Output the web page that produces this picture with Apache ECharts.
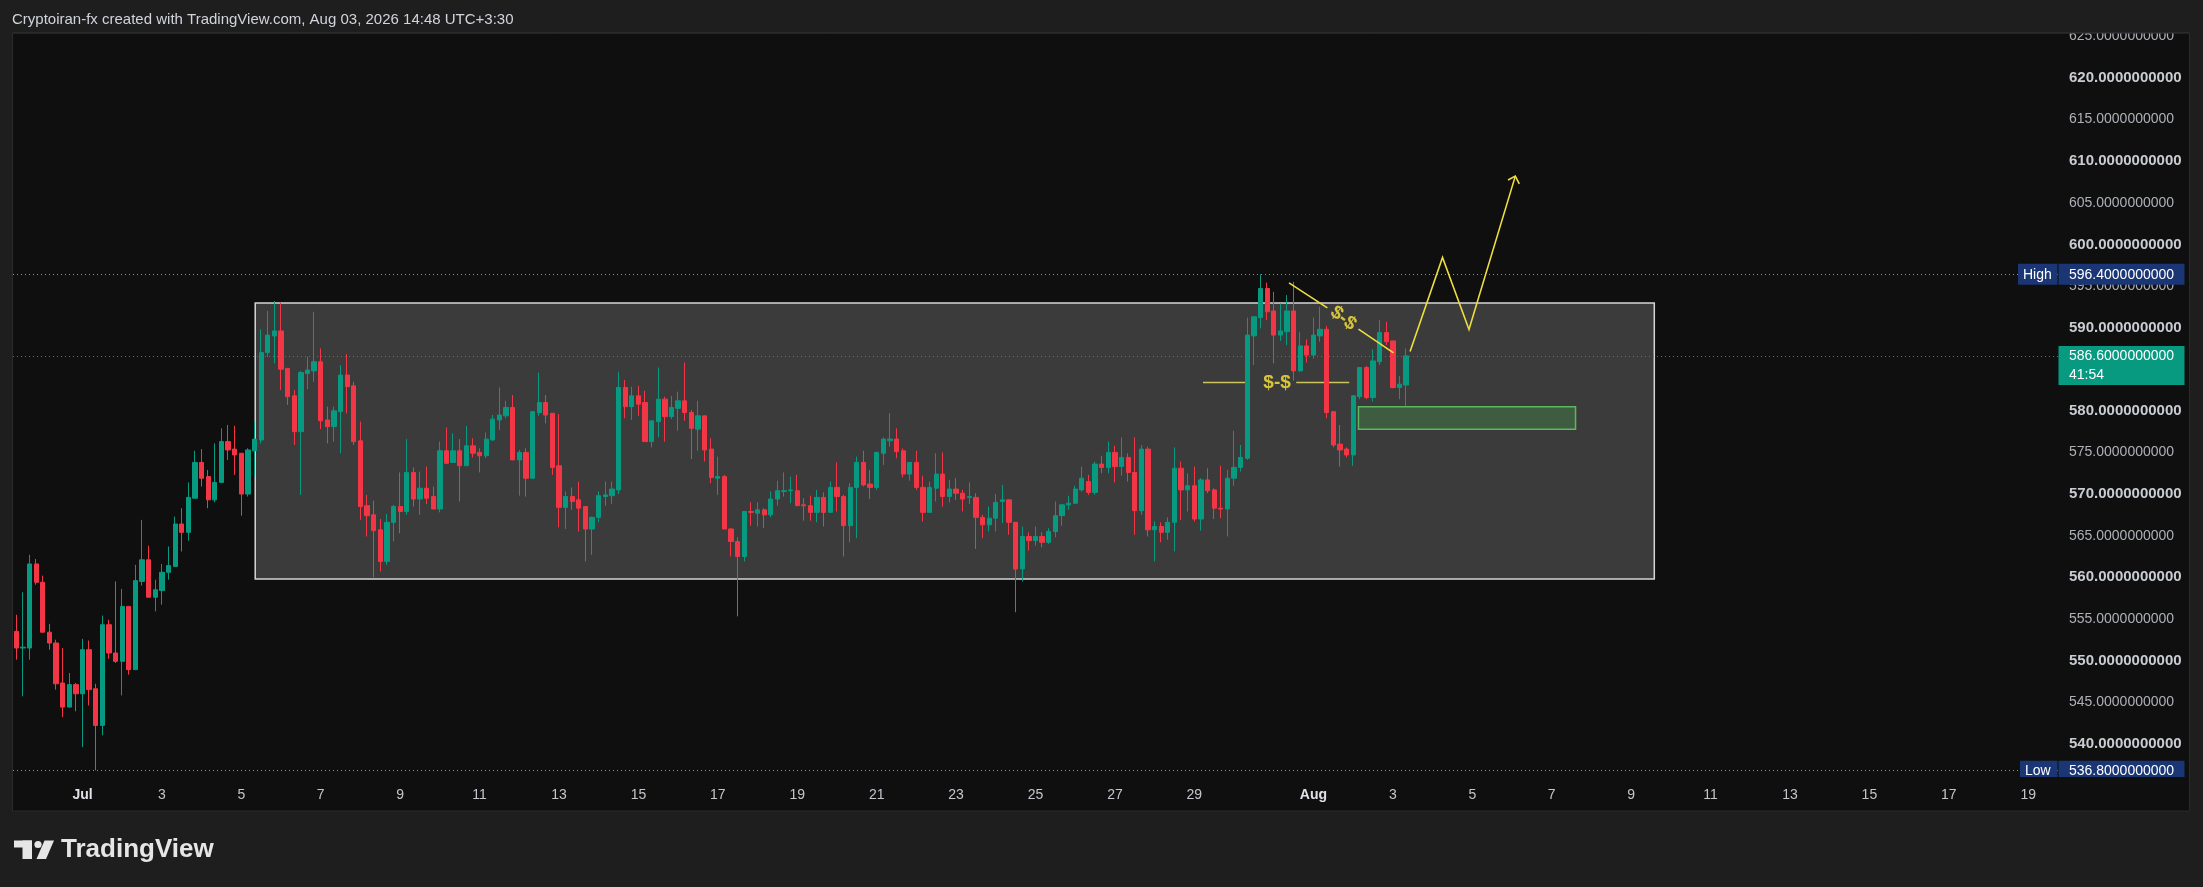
<!DOCTYPE html>
<html>
<head>
<meta charset="utf-8">
<script src="https://cdn.jsdelivr.net/npm/echarts@6/dist/echarts.min.js"></script>
<style>
html,body{margin:0;padding:0;background:#1e1e1e;}
#c{width:2203px;height:887px;}
</style>
</head>
<body>
<div id="c"></div>
<script>
// ---- DATA (4h candles, starting Jun 29 08:00) ----
const opens = [553.5,551.5,551.5,561.6,559.4,553.4,552.1,547.3,544.4,547.1,546.0,551.3,546.6,542.2,554.3,550.9,549.9,556.5,548.9,559.5,
562.1,557.6,558.4,560.6,561.3,566.4,565.4,569.5,573.8,572.1,569.3,571.4,576.3,575.4,574.9,570.0,575.2,576.5,587.0,589.0,
589.6,585.1,581.8,577.5,584.5,584.8,585.9,578.9,578.1,579.9,584.3,583.0,576.4,568.6,567.5,565.7,561.9,566.6,
568.5,567.9,572.6,569.4,570.7,569.7,568.2,575.2,573.8,575.2,573.4,575.8,575.0,574.6,576.5,578.9,579.4,580.4,574.1,575.0,
571.9,579.8,581.0,579.7,573.4,568.4,569.7,569.3,568.5,565.8,567.2,569.7,569.8,570.5,582.8,580.5,581.8,581.0,576.3,578.7,
581.4,579.3,580.3,581.2,579.8,577.8,579.4,575.4,571.9,572.1,565.8,564.3,
562.5,567.9,567.7,568.1,567.5,569.4,570.3,570.4,570.4,568.7,568.6,567.8,569.6,567.8,570.8,569.7,566.2,570.8,573.8,571.2,
570.8,574.9,576.4,576.6,575.2,572.4,573.8,570.8,567.8,570.7,572.4,569.7,570.6,570.1,569.6,569.6,567.2,566.3,567.1,569.1,
569.3,566.6,561.0,564.9,564.4,564.9,564.2,565.5,567.4,568.7,568.9,570.5,
571.5,570.2,573.6,573.2,575.0,573.3,574.4,572.6,568.0,575.4,565.7,566.1,565.4,566.6,573.1,570.5,571.0,567.0,571.7,570.5,
568.3,568.2,571.9,573.2,574.3,589.0,591.2,594.7,592.0,589.1,589.5,592.0,584.8,587.8,586.7,589.0,589.8,579.9,576.0,575.4,
574.7,581.7,585.2,581.6,585.9,589.4,588.4,582.8,583.1];
const closes = [551.5,551.6,561.6,559.4,553.4,552.1,547.2,544.4,547.1,546.0,551.3,546.5,542.2,554.3,550.9,549.9,556.5,548.9,559.6,562.1,
557.6,558.5,560.6,561.4,566.4,565.4,569.6,573.8,571.9,569.3,571.4,576.3,575.3,574.7,570.0,575.3,576.6,587.0,589.1,589.6,
585.0,581.7,577.5,584.6,584.9,585.9,578.8,578.1,580.0,584.3,582.9,576.3,568.5,567.4,565.6,561.9,566.6,568.5,
567.9,572.6,569.4,570.7,569.5,568.2,575.2,573.7,575.2,573.4,575.8,574.9,574.6,576.6,579.0,579.5,580.4,574.1,575.0,571.9,
579.9,581.0,579.5,573.2,568.4,569.7,569.1,568.3,565.8,567.2,569.8,569.9,570.6,582.8,580.5,581.8,580.8,576.3,578.8,581.4,
579.3,580.4,581.2,579.8,577.9,579.4,575.3,572.0,572.1,565.8,564.3,562.5,
567.9,567.8,568.1,567.5,569.4,570.4,570.4,570.5,568.6,568.6,567.8,569.6,567.8,570.8,569.7,566.2,570.8,573.8,571.1,570.8,
575.0,576.6,576.6,575.1,572.4,573.8,570.8,567.8,570.8,572.4,569.7,570.6,570.1,569.4,569.7,567.2,566.3,567.1,569.0,569.3,
566.6,561.0,564.9,564.4,564.9,564.2,565.5,567.4,568.7,568.9,570.6,571.9,
570.2,573.6,573.2,575.0,573.3,574.4,572.6,568.0,575.4,565.7,566.1,565.4,566.6,573.1,570.5,571.0,567.0,571.7,570.4,568.3,
568.2,571.9,573.2,574.4,589.1,591.3,594.7,591.9,589.1,589.6,592.0,584.8,587.8,586.7,589.1,589.8,579.8,575.9,575.3,574.7,
581.8,585.2,581.6,586.0,589.4,588.3,582.8,583.2,586.6];
const highs = [555.5,558.2,562.7,562.2,560.2,554.4,552.5,551.5,548.5,547.3,552.6,552.4,547.2,555.4,554.9,559.5,558.6,556.5,561.5,566.9,
563.8,559.7,561.6,563.7,567.3,568.3,571.4,575.2,575.4,572.9,576.1,577.9,578.3,578.2,574.9,575.5,578.7,589.8,592.0,593.2,
593.0,585.1,582.5,584.8,586.5,591.9,587.5,580.5,580.5,585.5,586.8,583.5,578.7,569.9,569.2,567.0,567.6,568.7,
572.6,576.6,573.2,572.7,573.3,570.9,576.3,578.0,577.3,576.6,578.2,576.7,575.5,577.4,579.5,582.8,581.2,581.9,575.3,575.5,
580.0,584.6,581.9,579.7,579.6,570.3,570.8,571.5,568.5,567.3,570.3,571.5,571.5,584.7,583.7,582.9,583.0,582.4,578.8,585.2,
581.7,581.8,582.3,585.8,580.1,581.2,579.4,576.7,574.5,572.3,565.9,564.8,
567.9,569.0,569.0,568.3,570.3,571.6,572.6,572.1,572.3,569.5,569.8,570.5,570.2,571.5,573.8,569.9,571.3,574.5,575.2,572.9,
575.1,576.8,579.7,577.9,575.5,573.8,575.2,572.2,571.5,574.9,575.0,571.7,571.9,570.5,571.4,570.1,567.5,568.5,570.0,571.1,
569.4,566.6,566.1,565.4,566.1,565.4,565.9,569.1,568.8,569.8,571.0,573.3,
572.3,573.9,574.6,576.3,575.8,576.8,574.9,576.8,575.9,575.7,566.7,566.6,567.2,575.6,573.9,572.5,573.3,571.9,573.1,570.7,
573.4,572.9,577.6,575.9,591.2,591.3,596.4,595.4,594.3,592.9,593.9,595.5,589.5,588.6,591.2,592.5,590.2,579.9,578.3,575.6,
581.9,585.2,585.4,587.4,590.9,590.7,588.4,584.2,587.5];
const lows = [550.1,545.7,550.1,559.1,553.4,551.3,546.5,543.2,544.4,543.9,539.6,544.6,536.8,541.0,550.2,549.7,545.8,548.3,548.9,559.0,
557.6,555.9,556.7,559.7,561.3,563.1,564.4,569.5,570.9,568.3,569.0,571.4,574.1,572.3,567.4,569.7,572.1,576.1,586.5,585.7,
582.5,580.7,575.9,569.9,582.6,583.5,577.8,576.1,576.3,574.9,579.7,575.9,566.9,564.9,560.0,560.7,561.5,564.3,
565.3,567.5,568.5,567.5,568.8,568.2,567.8,573.6,573.8,569.1,573.4,574.4,572.6,574.3,576.4,577.7,579.1,574.1,569.8,569.7,
571.8,579.4,578.5,572.3,566.0,565.8,568.1,565.5,561.9,562.7,566.6,568.6,568.8,570.0,579.1,578.9,579.4,576.3,575.6,576.8,
576.3,579.0,577.6,578.8,574.2,575.2,573.9,571.3,569.9,565.8,562.5,555.3,
561.9,566.2,566.1,565.9,567.2,568.6,569.7,568.9,568.6,566.8,566.8,566.6,566.1,567.8,567.9,562.5,564.2,564.7,570.9,569.4,
570.5,573.5,575.7,574.3,572.0,571.6,570.5,566.7,567.8,569.1,568.5,569.0,569.3,567.9,568.8,563.4,564.7,565.5,565.5,566.5,
565.1,555.8,559.5,563.2,563.8,563.6,564.0,564.8,566.2,568.1,568.8,570.3,
569.9,569.9,572.5,572.5,571.4,572.2,571.5,565.1,567.5,564.9,561.9,564.2,564.5,563.1,566.9,567.9,566.7,565.6,570.1,567.0,
567.1,564.9,571.0,572.7,574.1,585.5,589.9,590.9,585.7,588.4,587.9,583.6,584.7,585.8,586.3,588.3,579.1,575.6,573.3,574.4,
573.4,581.4,581.4,581.1,585.5,587.9,582.7,581.4,580.6];

const priceTicksStep = 5;
const highValue = 596.4, lowValue = 536.8, lastValue = 586.6;
const countdown = '41:54';
const totalSlots = 309;

// annotation geometry in data units: [candle index, price]
const rangeBox = [[36.1, 592.95], [247.5, 559.8]];
const demandBox = [[202.8, 580.5], [235.6, 577.8]];
const levelLines = [
  [[179.3, 583.4], [186.1, 583.4]],
  [[193.4, 583.4], [201.4, 583.4]]
];
const yellowPaths = [
  [[192.3, 595.38], [198.1, 592.38]],
  [[202.8, 589.82], [208.1, 586.97]],
  [[210.6, 587.12], [215.5, 598.43], [219.5, 589.78], [226.5, 608.2]],
  [[225.4, 607.74], [226.5, 608.2], [227.1, 607.26]]
];
const labelsSS = [
  {pos: [190.5, 583.4], rot: 0},
  {pos: [200.5, 591.1], rot: -37}
];

// ---- categories ----
const start = Date.UTC(2026, 5, 29, 8);
const cats = [];
for (let i = 0; i < totalSlots; i++) {
  const d = new Date(start + i * 4 * 3600e3);
  cats.push(d.toISOString().slice(0, 13));
}
const monthNames = ['Jan','Feb','Mar','Apr','May','Jun','Jul','Aug','Sep','Oct','Nov','Dec'];
function catLabel(value) {
  const d = new Date(value + ':00:00Z');
  if (d.getUTCHours() !== 0) return '';
  const day = d.getUTCDate();
  if (day === 1) return '{m|' + monthNames[d.getUTCMonth()] + '}';
  if (day % 2 === 1 && day !== 31) return '{d|' + day + '}';
  return '';
}

const candleData = opens.map((o, i) => [o, closes[i], lows[i], highs[i]]);

const FONT = 'Liberation Sans, Arial, sans-serif';
const UP = '#089981', DOWN = '#f23645', YEL = '#eedd3f';

const chart = echarts.init(document.getElementById('c'));
const gridLeft = 13, gridTop = 33, gridW = 2045, gridH = 744;

chart.setOption({
  animation: false,
  backgroundColor: '#1e1e1e',
  grid: {left: gridLeft, top: gridTop, width: gridW, height: gridH},
  xAxis: [{
    type: 'category', data: cats, boundaryGap: true,
    axisLine: {show: false}, axisTick: {show: false}, splitLine: {show: false},
    axisLabel: {
      interval: 0, margin: 11, formatter: catLabel,
      rich: {
        d: {color: '#c4c6cc', fontSize: 14, fontFamily: FONT},
        m: {color: '#dfe1e6', fontSize: 14, fontWeight: 'bold', fontFamily: FONT}
      }
    }
  }, {
    type: 'value', min: -0.5, max: totalSlots - 0.5, show: false
  }],
  yAxis: {
    type: 'value', position: 'right', min: 536, max: 625.4, interval: 1, scale: true,
    axisLine: {show: false}, axisTick: {show: false}, splitLine: {show: false},
    axisLabel: {
      margin: 11,
      formatter: function (v) {
        const r = Math.round(v);
        if (Math.abs(v - r) > 1e-6 || r % priceTicksStep !== 0) return '';
        return (r % 10 === 0 ? '{b|' : '{n|') + r.toFixed(10) + '}';
      },
      rich: {
        n: {color: '#aeb1b8', fontSize: 14, fontFamily: FONT},
        b: {color: '#c9ccd2', fontSize: 15, fontWeight: 'bold', fontFamily: FONT}
      }
    }
  },
  series: [
    {
      type: 'scatter', xAxisIndex: 1, data: [], z: 1, silent: true,
      markArea: {
        silent: true,
        itemStyle: {color: '#3b3b3b', borderColor: '#d6d6d6', borderWidth: 1.5},
        data: [[{coord: rangeBox[0]}, {coord: rangeBox[1]}]]
      }
    },
    {
      type: 'lines', coordinateSystem: 'cartesian2d', xAxisIndex: 1, polyline: true, z: 2, silent: true,
      lineStyle: {color: '#cbc35c', width: 1.6, opacity: 1},
      data: levelLines.map(p => ({coords: p}))
    },
    {
      type: 'candlestick', data: candleData, z: 3, barWidth: '72%',
      itemStyle: {color: UP, color0: DOWN, borderColor: UP, borderColor0: DOWN, borderWidth: 1},
      markLine: {
        silent: true, symbol: ['none', 'none'], label: {show: false}, animation: false,
        data: [
          {yAxis: highValue, lineStyle: {color: '#8f9299', type: [1, 3], width: 1}},
          {yAxis: lastValue, lineStyle: {color: UP, type: [1, 3], width: 1}},
          {yAxis: lowValue, lineStyle: {color: '#8f9299', type: [1, 3], width: 1}}
        ]
      }
    },
    {
      type: 'scatter', xAxisIndex: 1, data: [], z: 4, silent: true,
      markArea: {
        silent: true,
        itemStyle: {color: '#3e5c40', borderColor: '#5cb860', borderWidth: 1.5},
        data: [[{coord: demandBox[0]}, {coord: demandBox[1]}]]
      }
    },
    {
      type: 'lines', coordinateSystem: 'cartesian2d', xAxisIndex: 1, polyline: true, z: 6, silent: true,
      lineStyle: {color: YEL, width: 1.6, opacity: 1},
      data: yellowPaths.map(p => ({coords: p}))
    },
    {
      type: 'scatter', xAxisIndex: 1, z: 7, silent: true, symbolSize: 1,
      itemStyle: {color: 'rgba(0,0,0,0)'},
      data: labelsSS.map(l => ({
        value: l.pos,
        label: {show: true, position: 'inside', formatter: '$-$', rotate: l.rot,
          color: '#ffe83a', fontSize: 19, fontWeight: 'bold', fontFamily: FONT}
      }))
    }
  ]
});

const right = gridLeft + gridW;
const yH = chart.convertToPixel({yAxisIndex: 0}, highValue);
const yC = chart.convertToPixel({yAxisIndex: 0}, lastValue);
const yL = chart.convertToPixel({yAxisIndex: 0}, lowValue);
const bottom = gridTop + gridH;
const NAVY = '#1b3674';
function txt(x, y, s, opt) {
  return Object.assign({type: 'text', z: 60, style: {x: x, y: y, text: s, fill: '#ffffff',
    font: '14px ' + FONT, textAlign: 'left', align: 'left', textVerticalAlign: 'middle', verticalAlign: 'middle'}}, opt || {});
}
chart.setOption({
  graphic: [
    {type: 'rect', z: -10, shape: {x: 12.5, y: 33, width: 2177, height: 778}, style: {fill: '#0f0f0f', stroke: '#2b2b2b', lineWidth: 1}},
    {type: 'rect', z: 100, shape: {x: 0, y: 0, width: 2203, height: 32.5}, style: {fill: '#1e1e1e'}},
    {type: 'rect', z: 100, shape: {x: 12.5, y: 32, width: 2177, height: 1.5}, style: {fill: '#2b2b2b'}},
    {type: 'text', z: 101, style: {x: 12, y: 20, text: 'Cryptoiran-fx created with TradingView.com, Aug 03, 2026 14:48 UTC+3:30',
      fill: '#d1d4dc', font: '15px ' + FONT, textAlign: 'left', align: 'left', textVerticalAlign: 'middle', verticalAlign: 'middle'}},
    // High tag
    {type: 'rect', z: 55, shape: {x: right - 40, y: yH - 10.5, width: 39.5, height: 21}, style: {fill: NAVY}},
    {type: 'rect', z: 55, shape: {x: right + 0.5, y: yH - 10.5, width: 126, height: 21}, style: {fill: NAVY}},
    txt(right - 35, yH + 0.5, 'High'),
    txt(right + 11, yH + 0.5, highValue.toFixed(10)),
    // last price tag
    {type: 'rect', z: 55, shape: {x: right + 0.5, y: yC - 10, width: 126, height: 39}, style: {fill: UP}},
    txt(right + 11, yC, lastValue.toFixed(10)),
    txt(right + 11, yC + 19, countdown),
    // Low tag
    {type: 'rect', z: 55, shape: {x: right - 38, y: yL - 9.5, width: 37.5, height: bottom - (yL - 9.5)}, style: {fill: NAVY}},
    {type: 'rect', z: 55, shape: {x: right + 0.5, y: yL - 9.5, width: 126, height: bottom - (yL - 9.5)}, style: {fill: NAVY}},
    txt(right - 33, yL + 1, 'Low'),
    txt(right + 11, yL + 1, lowValue.toFixed(10)),
    // TradingView logo
    {type: 'rect', z: 60, shape: {x: 14, y: 840.5, width: 18, height: 7}, style: {fill: '#e6e6e6'}},
    {type: 'rect', z: 60, shape: {x: 22.5, y: 840.5, width: 9.5, height: 18.5}, style: {fill: '#e6e6e6'}},
    {type: 'circle', z: 60, shape: {cx: 38, cy: 844.5, r: 3.6}, style: {fill: '#e6e6e6'}},
    {type: 'polygon', z: 60, shape: {points: [[44.5, 840.5], [54, 840.5], [46, 859], [36.5, 859]]}, style: {fill: '#e6e6e6'}},
    {type: 'text', z: 60, style: {x: 61, y: 850, text: 'TradingView', fill: '#e6e6e6', font: 'bold 26px ' + FONT,
      textAlign: 'left', align: 'left', textVerticalAlign: 'middle', verticalAlign: 'middle'}}
  ]
});
</script>
</body>
</html>
